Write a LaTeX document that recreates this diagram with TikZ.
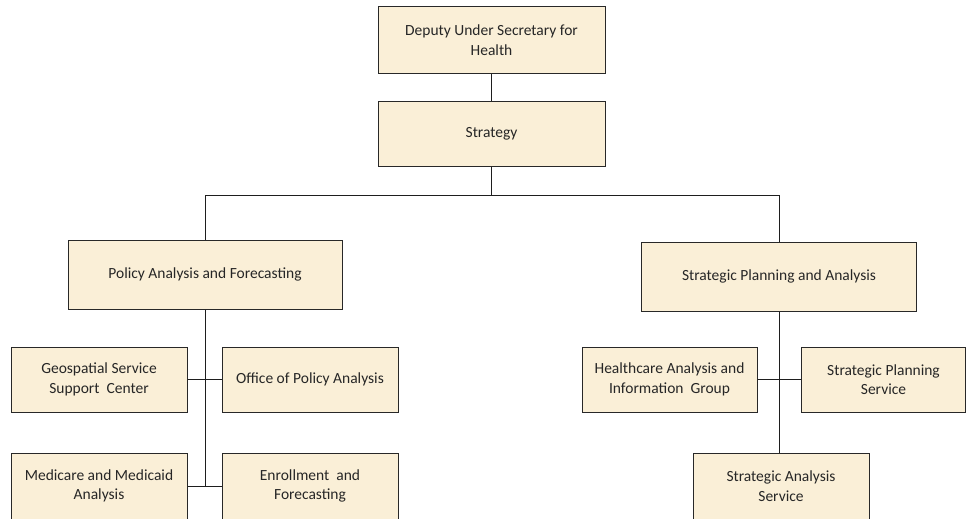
\documentclass[tikz,border=0pt]{standalone}
\usepackage{fontspec}
\setmainfont{Carlito}
\definecolor{boxfill}{RGB}{250,239,215}
\definecolor{boxline}{RGB}{40,40,40}
\definecolor{conn}{RGB}{30,30,30}
\begin{document}
\begin{tikzpicture}[x=1pt,y=-1pt,
  orgbox/.style={draw=boxline,line width=1pt,fill=boxfill,rectangle,inner sep=0pt,
    align=center,font=\fontsize{15.5}{19.5}\selectfont,text=black!85},
  link/.style={draw=conn,line width=0.9pt}]
\useasboundingbox (0,0) rectangle (966,519);
\node[orgbox,minimum width=227pt,minimum height=66pt] (dep) at (491.5,40) {Deputy Under Secretary for\\Health};
\node[orgbox,minimum width=227pt,minimum height=65pt] (strat) at (491.5,133.5) {Strategy};
\node[orgbox,minimum width=274pt,minimum height=69pt] (paf) at (205,274.5) {Policy Analysis and Forecasting};
\node[orgbox,minimum width=275pt,minimum height=69pt] (spa) at (779,276.5) {Strategic Planning and Analysis};
\node[orgbox,minimum width=176pt,minimum height=65pt] (geo) at (99,379.5) {Geospatial Service\\Support\ \ Center};
\node[orgbox,minimum width=176pt,minimum height=65pt] (opa) at (310,379.5) {Office of Policy Analysis};
\node[orgbox,minimum width=176pt,minimum height=66pt] (mma) at (99,486) {Medicare and Medicaid\\Analysis};
\node[orgbox,minimum width=176pt,minimum height=66pt] (eaf) at (310,486) {Enrollment\ \ and\\Forecasting};
\node[orgbox,minimum width=175pt,minimum height=65pt] (haig) at (669.5,379.5) {Healthcare Analysis and\\Information\ \ Group};
\node[orgbox,minimum width=164pt,minimum height=65pt] (sps) at (883.5,379.5) {Strategic Planning\\Service};
\node[orgbox,minimum width=176pt,minimum height=66pt] (sas) at (781,486) {Strategic Analysis\\Service};
\draw[link] (dep.south) -- (strat.south |- strat.north);
\coordinate (bus) at (491.5,195);
\draw[link] (strat.south) -- (bus) -| (paf.north);
\draw[link] (bus) -| (spa.north);
\draw[link] (paf.south) -- (paf.south |- mma.east);
\draw[link] (geo.east) -- (opa.west);
\draw[link] (mma.east) -- (eaf.west);
\draw[link] (spa.south) -- (spa.south |- sas.north);
\draw[link] (haig.east) -- (sps.west);
\end{tikzpicture}
\end{document}
